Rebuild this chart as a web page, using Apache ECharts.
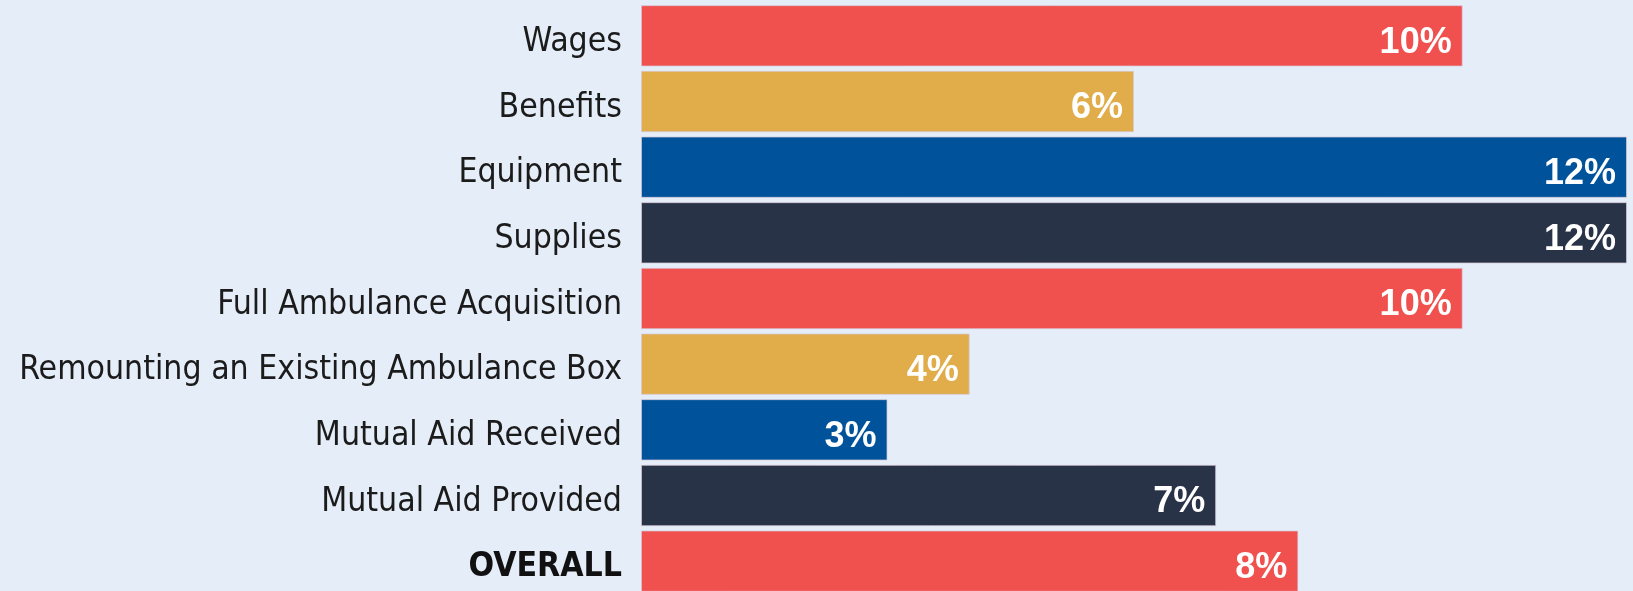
<!DOCTYPE html>
<html>
<head>
<meta charset="utf-8">
<style>
  html, body { margin: 0; padding: 0; background: #e5edf8; }
  #chart { width: 1633px; height: 591px; }
</style>
<script src="https://cdn.jsdelivr.net/npm/echarts@6/dist/echarts.min.js"></script>
</head>
<body>
<div id="chart"></div>
<script>
// categories, top to bottom
const categories = [
  'Wages', 'Benefits', 'Equipment', 'Supplies', 'Full Ambulance Acquisition',
  'Remounting an Existing Ambulance Box', 'Mutual Aid Received', 'Mutual Aid Provided', 'OVERALL'
]
const percentages = [10, 6, 12, 12, 10, 4, 3, 7, 8]
const barColors = ['#f0514f', '#e0ad4a', '#00529b', '#293347']

const labelFont = '"DejaVu Sans Condensed", "DejaVu Sans", sans-serif'
const chart = echarts.init(document.getElementById('chart'), null, { renderer: 'canvas' })

chart.setOption({
  backgroundColor: '#e5edf8',
  animation: false,
  grid: { left: 641, right: 6, top: 3, height: 591, outerBoundsMode: 'none', containLabel: false },
  xAxis: { type: 'value', min: 0, max: 12, show: false },
  yAxis: {
    type: 'category', data: categories, inverse: true,
    axisLine: { show: false }, axisTick: { show: false },
    axisLabel: {
      margin: 19, color: '#1b1b1b', fontSize: 33.5, fontFamily: labelFont,
      padding: [13, 0, 0, 0],
      formatter: (v) => v === 'OVERALL' ? '{b|' + v + '}' : v,
      rich: { b: { fontWeight: 'bold', fontSize: 33.5, color: '#111', fontFamily: labelFont } },
    },
  },
  series: [{
    type: 'bar',
    data: percentages.map((v, i) => ({ value: v, itemStyle: { color: barColors[i % barColors.length] } })),
    barCategoryGap: '6.6%',
    itemStyle: { borderColor: 'rgba(215,200,215,0.7)', borderWidth: 1 },
    label: {
      show: true, position: 'insideRight', distance: 11, offset: [0, 7],
      formatter: (p) => p.value + '%',
      color: '#ffffff', fontSize: 36, fontWeight: 'bold',
      fontFamily: '"Liberation Sans", Arial, sans-serif',
    },
  }],
})
</script>
</body>
</html>
